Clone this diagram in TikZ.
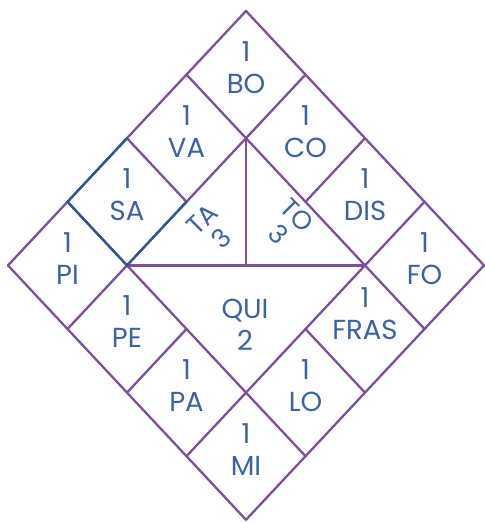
\documentclass[tikz,border=0pt]{standalone}
\usepackage{fontspec}
\setmainfont{Poppins}
\usetikzlibrary{positioning}
\definecolor{gridpurple}{HTML}{7E4E9E}
\definecolor{sablue}{HTML}{2A5599}
\definecolor{txtblue}{HTML}{3A62A8}

\tikzset{
  edge/.style={draw=gridpurple, line width=2.3pt, line cap=round, line join=round},
  saedge/.style={draw=sablue, line width=2.3pt, line cap=round},
  cell/.style={font=\fontsize{27.5}{32}\selectfont, text=txtblue, align=center, inner sep=0pt},
  tri/.style={cell, font=\fontsize{26}{27}\selectfont},
}

\begin{document}
\begin{tikzpicture}[x=1pt, y=1pt]
    \useasboundingbox (0,0) rectangle (485,523);

    % grid points g-i-j: i runs down-right, j runs down-left
    \foreach \i in {0,...,4}{
        \foreach \j in {0,...,4}{
            \coordinate (g-\i-\j) at ({246+59.5*(\i-\j)}, {512-63.6*(\i+\j)});
        }
    }
    \coordinate (mid) at (g-1-1 |- g-1-3);

    % outer square and grid lines
    \draw[edge] (g-0-0) -- (g-4-0) -- (g-4-4) -- (g-0-4) -- cycle;
    \draw[edge] (g-1-0) -- (g-1-4);
    \draw[edge] (g-3-0) -- (g-3-4);
    \draw[edge] (g-0-1) -- (g-4-1);
    \draw[edge] (g-0-3) -- (g-4-3);
    \draw[edge] (g-2-0) -- (g-2-1);
    \draw[edge] (g-2-3) -- (g-2-4);
    \draw[edge] (g-0-2) -- (g-1-2);
    \draw[edge] (g-3-2) -- (g-4-2);
    \draw[edge] (g-1-3) -- (g-3-1);
    \draw[edge] (g-1-1) -- (mid);

    % the SA square
    \draw[saedge] (g-0-2) -- (g-0-3) -- (g-1-3) -- (g-1-2);

    % labels of the small squares
    \foreach \i/\j/\lbl/\up in {0/0/BO/7, 1/0/CO/7, 2/0/DIS/7, 3/0/FO/7,
                               0/1/VA/7, 0/2/SA/7, 0/3/PI/7,
                               1/3/PE/7, 2/3/PA/7, 3/3/MI/7,
                               3/2/LO/7, 3/1/FRAS/15}{
        \node[cell] (\lbl) at ({246+59.5*(\i-\j)}, {512-63.6*(\i+\j+1)+\up}) {1\\\lbl};
    }

    % the three triangles
    \node[cell] (qui) at (245,198) {QUI\\2};
    \node[tri, rotate=45] (ta) at (212,294) {TA\\3};
    \node[tri, rotate=-45] (to) at (288,298) {TO\\3};
\end{tikzpicture}
\end{document}
